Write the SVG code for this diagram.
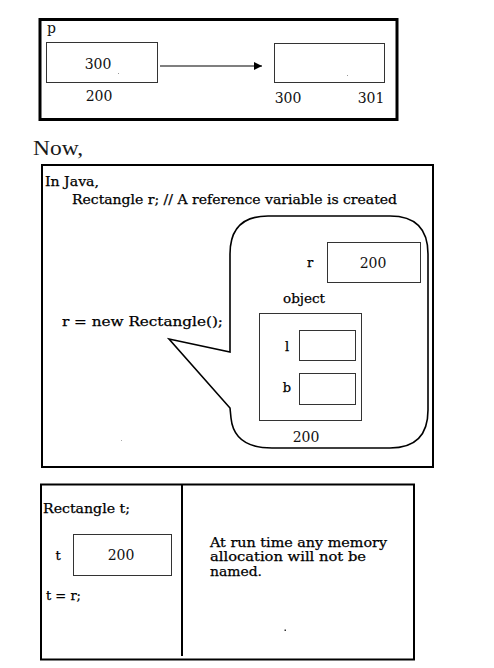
<svg xmlns="http://www.w3.org/2000/svg" width="494" height="668" viewBox="0 0 494 668">
<style>
.t{font-family:"DejaVu Serif","Liberation Serif",serif;font-size:13px;fill:#000;stroke:#000;stroke-width:0.25}
.n{font-family:"DejaVu Serif","Liberation Serif",serif;font-size:14px;fill:#111}
.frame{fill:none;stroke:#000}
.cell{fill:#fff;stroke:#333;stroke-width:1}
</style>
<defs>
<marker id="ah" viewBox="0 0 10 10" refX="10" refY="5" markerWidth="8" markerHeight="8" markerUnits="userSpaceOnUse" orient="auto">
<path d="M0,0 L10,5 L0,10 Z" fill="#000"/>
</marker>
</defs>
<rect width="494" height="668" fill="#fff"/>

<g id="memory-top">
<rect class="frame" x="40" y="19.5" width="357" height="100" stroke-width="3"/>
<text class="n" x="47" y="33" font-size="15">p</text>
</g>
<g id="box-p">
<rect class="cell" x="46.5" y="42.5" width="111" height="40"/>
<text class="n" x="98" y="69" text-anchor="middle">300</text>
<text class="n" x="99" y="101" text-anchor="middle">200</text>
<rect x="118" y="73" width="1" height="1" fill="#999"/>
</g>
<g id="box-300">
<rect class="cell" x="274.5" y="43.5" width="110" height="39"/>
<text class="n" x="288" y="103" text-anchor="middle">300</text>
<text class="n" x="371" y="103" text-anchor="middle">301</text>
<rect x="347" y="75" width="1" height="1" fill="#999"/>
</g>
<g id="connectors">
<line x1="160" y1="66" x2="262" y2="66" stroke="#000" stroke-width="1.2" marker-end="url(#ah)"/>
</g>

<text x="33" y="155" font-family="'Liberation Serif',serif" font-size="21" fill="#1a1a1a" textLength="50" lengthAdjust="spacingAndGlyphs">Now,</text>

<g id="java-panel">
<rect class="frame" x="42" y="165" width="391" height="302" stroke-width="2"/>
<text class="t" x="45" y="186" textLength="54" lengthAdjust="spacingAndGlyphs">In Java,</text>
<text class="t" x="72" y="204" textLength="325" lengthAdjust="spacingAndGlyphs">Rectangle r; // A reference variable is created</text>
<text class="t" x="62" y="326" textLength="161" lengthAdjust="spacingAndGlyphs">r = new Rectangle();</text>
<rect x="121" y="440" width="1" height="1" fill="#aaa"/>
</g>
<g id="bubble">
<path d="M268,216 H390 Q428,216 428,254 V410 Q428,448 390,448 H272 Q234,448 231,418 L230,408 L169,339 L230,352 V254 Q230,216 268,216 Z" fill="none" stroke="#000" stroke-width="1.6"/>
</g>
<g id="var-r">
<text class="t" x="310" y="267" text-anchor="middle">r</text>
<rect class="cell" x="327.5" y="242.5" width="93" height="40"/>
<text class="n" x="373" y="268" text-anchor="middle">200</text>
</g>
<g id="object">
<text class="t" x="304" y="303" text-anchor="middle" textLength="42" lengthAdjust="spacingAndGlyphs">object</text>
<rect class="cell" x="259.5" y="313.5" width="102" height="107" fill="none"/>
<text class="t" x="287" y="351" text-anchor="middle">l</text>
<rect class="cell" x="299.5" y="330.5" width="56" height="30"/>
<text class="t" x="287" y="392" text-anchor="middle">b</text>
<rect class="cell" x="299.5" y="373.5" width="56" height="31"/>
<text class="n" x="306" y="442" text-anchor="middle">200</text>
</g>

<g id="assign-panel">
<rect class="frame" x="41" y="484.5" width="373" height="175" stroke-width="2"/>
<line x1="182" y1="485" x2="182" y2="656" stroke="#000" stroke-width="2"/>
<text class="t" x="43" y="513" textLength="87" lengthAdjust="spacingAndGlyphs">Rectangle t;</text>
<text class="t" x="58" y="560" text-anchor="middle">t</text>
<rect class="cell" x="73.5" y="534.5" width="98" height="41"/>
<text class="n" x="121" y="560" text-anchor="middle">200</text>
<text class="t" x="46" y="600" textLength="35" lengthAdjust="spacingAndGlyphs">t = r;</text>
<text class="t" x="210" y="547" textLength="177" lengthAdjust="spacingAndGlyphs">At run time any memory</text>
<text class="t" x="210" y="561" textLength="156" lengthAdjust="spacingAndGlyphs">allocation will not be</text>
<text class="t" x="210" y="576" textLength="52" lengthAdjust="spacingAndGlyphs">named.</text>
<rect x="284.5" y="629.5" width="1.5" height="1.5" fill="#333"/>
</g>
</svg>
